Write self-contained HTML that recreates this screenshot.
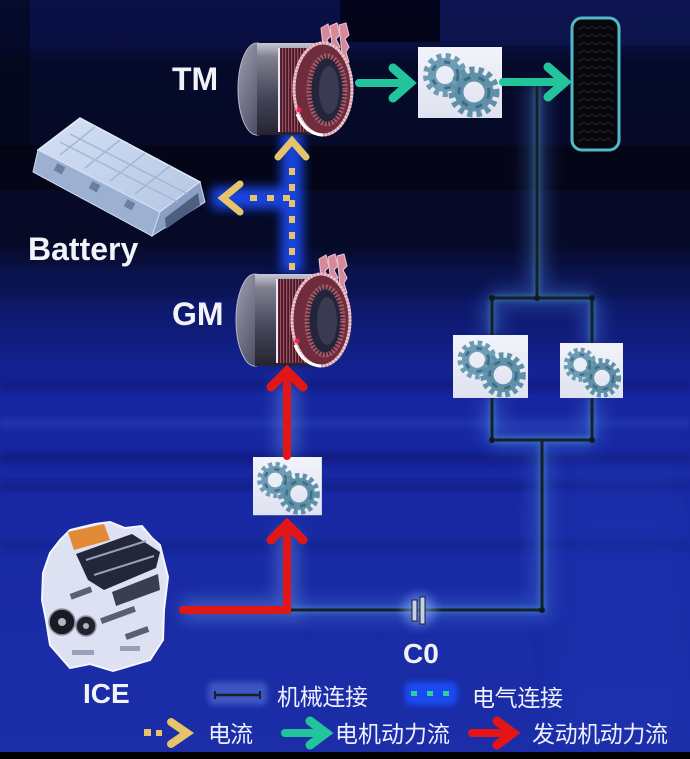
<!DOCTYPE html>
<html><head><meta charset="utf-8"><style>
html,body{margin:0;padding:0;background:#000;}
svg{display:block}
.lb{font-family:"Liberation Sans",sans-serif;font-weight:bold;fill:#f2f3f8}
.cn{font-family:"Liberation Sans","Noto Sans CJK SC",sans-serif;fill:#eef0ff;font-size:23px}
</style></head><body>
<svg width="690" height="759" viewBox="0 0 690 759" xmlns="http://www.w3.org/2000/svg">
<defs>
 <linearGradient id="bg" x1="0" y1="0" x2="0" y2="1">
  <stop offset="0" stop-color="#0a1048"/>
  <stop offset="0.06" stop-color="#090f40"/>
  <stop offset="0.08" stop-color="#060a2a"/>
  <stop offset="0.32" stop-color="#060a26"/>
  <stop offset="0.40" stop-color="#0d1868"/>
  <stop offset="0.52" stop-color="#1626a0"/>
  <stop offset="1" stop-color="#1b2ea8"/>
 </linearGradient>
 <linearGradient id="shellg" x1="0" y1="0" x2="0" y2="1">
  <stop offset="0" stop-color="#c8c8d6"/>
  <stop offset="0.15" stop-color="#80808f"/>
  <stop offset="0.6" stop-color="#44445a"/>
  <stop offset="1" stop-color="#242430"/>
 </linearGradient>
 <linearGradient id="capg" x1="0" y1="0" x2="1" y2="1">
  <stop offset="0" stop-color="#a0a0b2"/>
  <stop offset="1" stop-color="#30304a"/>
 </linearGradient>
 <linearGradient id="boxg" x1="0" y1="0" x2="0" y2="1">
  <stop offset="0" stop-color="#f2f3fa"/>
  <stop offset="1" stop-color="#dfe2f0"/>
 </linearGradient>
 <linearGradient id="battop" x1="0" y1="0" x2="1" y2="1">
  <stop offset="0" stop-color="#d4e0f4"/>
  <stop offset="1" stop-color="#b4c6e4"/>
 </linearGradient>
 <pattern id="teeth" width="3" height="4" patternUnits="userSpaceOnUse">
  <rect x="0" y="0" width="1.2" height="4" fill="#9a5262"/>
 </pattern>
 <pattern id="tread" width="8" height="8" patternUnits="userSpaceOnUse">
  <path d="M0,2 L4,5 L8,2" stroke="#23232e" stroke-width="1" fill="none"/>
 </pattern>
 <filter id="b3" x="-50%" y="-50%" width="200%" height="200%"><feGaussianBlur stdDeviation="3"/></filter>
 <filter id="b5" x="-50%" y="-50%" width="200%" height="200%"><feGaussianBlur stdDeviation="5"/></filter>
 <filter id="b8" x="-50%" y="-50%" width="200%" height="200%"><feGaussianBlur stdDeviation="8"/></filter>
 <filter id="b14" x="-50%" y="-50%" width="200%" height="200%"><feGaussianBlur stdDeviation="14"/></filter>

 <g id="gear">
  <rect width="84" height="71" fill="url(#boxg)"/>
  <g fill="none">
   <circle cx="27" cy="28" r="13" stroke="#6e9cb4" stroke-width="8"/>
   <circle cx="27" cy="28" r="19" stroke="#6e9cb4" stroke-width="6" stroke-dasharray="5 4"/>
   <circle cx="56" cy="45" r="15" stroke="#5f90a8" stroke-width="9"/>
   <circle cx="56" cy="45" r="22" stroke="#5f90a8" stroke-width="7" stroke-dasharray="5 4"/>
   <circle cx="27" cy="28" r="13" stroke="#35657e" stroke-width="3" stroke-dasharray="6 9" opacity="0.8"/>
   <circle cx="56" cy="45" r="15" stroke="#35657e" stroke-width="3" stroke-dasharray="7 8" opacity="0.8"/>
  </g>
 </g>

 <g id="motor">
  <g fill="#d48a9c" stroke="#f2c4cc" stroke-width="1">
   <path d="M84,6 l7,-4 l3,12 l-4,4 l4,8 l-3,5 l3,9 l-6,2 z"/>
   <path d="M93,4 l7,-3 l3,12 l-4,4 l4,8 l-3,5 l3,9 l-6,2 z"/>
   <path d="M102,3 l7,-2 l3,12 l-4,4 l4,8 l-3,5 l3,10 l-6,2 z"/>
  </g>
  <ellipse cx="20" cy="67" rx="19" ry="46" fill="url(#capg)" stroke="#b8b8c8" stroke-width="1"/>
  <rect x="20" y="21" width="60" height="92" fill="url(#shellg)"/>
  <rect x="42" y="26" width="36" height="84" fill="#4a1826"/>
  <rect x="42" y="26" width="36" height="84" fill="url(#teeth)"/>
  <line x1="42" y1="26" x2="42" y2="110" stroke="#e8e8f0" stroke-width="2"/>
  <ellipse cx="86" cy="67" rx="29" ry="46" fill="#6e2c3c" stroke="#d8a0ae" stroke-width="3"/>
  <ellipse cx="86" cy="67" rx="29" ry="46" fill="none" stroke="#f0d0d8" stroke-width="3" stroke-dasharray="1.5 2"/>
  <ellipse cx="90" cy="68" rx="18" ry="34" fill="#24243a" stroke="#a85868" stroke-width="5" stroke-dasharray="2 1.5"/>
  <ellipse cx="92" cy="68" rx="10" ry="24" fill="#3a3a50"/>
  <path d="M60,92 Q68,112 86,113" stroke="#ffffff" stroke-width="3" fill="none"/>
  <circle cx="62" cy="88" r="2.5" fill="#ff2050"/>
 </g>
</defs>

<!-- background -->
<rect width="690" height="759" fill="url(#bg)"/>
<rect x="340" y="0" width="100" height="42" fill="#02030f" opacity="0.8"/>
<rect x="0" y="0" width="30" height="150" fill="#02030f" opacity="0.5"/>
<rect x="440" y="0" width="250" height="45" fill="#111c60" opacity="0.4"/>
<rect x="0" y="145" width="690" height="45" fill="#010208" opacity="0.5"/>
<rect x="0" y="268" width="690" height="30" fill="#0a1450" opacity="0.6"/>
<rect x="0" y="380" width="690" height="10" fill="#0a1670" opacity="0.5" filter="url(#b3)"/>
<rect x="0" y="418" width="690" height="10" fill="#3048c0" opacity="0.35" filter="url(#b3)"/>
<rect x="0" y="452" width="690" height="12" fill="#0a1670" opacity="0.55" filter="url(#b3)"/>
<rect x="0" y="482" width="690" height="8" fill="#0a1670" opacity="0.45" filter="url(#b3)"/>
<rect x="0" y="540" width="690" height="10" fill="#0c1a78" opacity="0.35" filter="url(#b3)"/>
<rect x="560" y="450" width="130" height="300" fill="#2238b8" opacity="0.3" filter="url(#b14)"/>
<rect x="0" y="752" width="690" height="7" fill="#000"/>

<!-- mechanical connection glows -->
<g fill="none">
 <path d="M537,84 V298 M492,298 H592 M492,298 V335 M592,298 V343 M492,398 V440 M592,398 V440 M492,440 H592 M542,440 V610 H290" stroke="#4a78e0" stroke-width="22" opacity="0.35" filter="url(#b8)"/>
 <path d="M182,610 H287 V530 M287,457 V380" stroke="#6a9ae8" stroke-width="22" opacity="0.4" filter="url(#b8)"/>
 <path d="M537,84 V298 M492,298 H592 M492,298 V335 M592,298 V343 M492,398 V440 M592,398 V440 M492,440 H592 M542,440 V610 H290" stroke="#50b8d0" stroke-width="6" opacity="0.4" filter="url(#b3)"/>
 <path d="M537,84 V298 M492,298 H592 M492,298 V335 M592,298 V343 M492,398 V440 M592,398 V440 M492,440 H592 M542,440 V610 H290" stroke="#152028" stroke-width="3"/>
</g>
<g fill="#101820">
 <circle cx="537" cy="298" r="3"/><circle cx="492" cy="298" r="3"/><circle cx="592" cy="298" r="3"/>
 <circle cx="492" cy="440" r="3"/><circle cx="592" cy="440" r="3"/><circle cx="542" cy="610" r="3"/>
</g>

<!-- clutch C0 -->
<circle cx="419" cy="610" r="16" fill="#90b8ff" opacity="0.5" filter="url(#b5)"/>
<rect x="412" y="600" width="5" height="21" fill="#c8d0e8" stroke="#1a2030" stroke-width="1"/>
<rect x="420" y="597" width="5" height="27" fill="#c8d0e8" stroke="#1a2030" stroke-width="1"/>

<!-- blue glow for electric -->
<path d="M292,132 V272 M212,198 H292" stroke="#1a50ff" stroke-width="22" opacity="0.85" fill="none" filter="url(#b5)"/>

<!-- tire -->
<rect x="572" y="18" width="47" height="132" rx="10" fill="#07070c" stroke="#52b8c4" stroke-width="3"/>
<rect x="578" y="24" width="35" height="120" rx="6" fill="url(#tread)"/>

<!-- gear boxes -->
<use href="#gear" transform="translate(418,47)"/>
<use href="#gear" transform="translate(453,335) scale(0.893,0.887)"/>
<use href="#gear" transform="translate(560,343) scale(0.75,0.775)"/>
<use href="#gear" transform="translate(253,457) scale(0.82,0.82)"/>

<!-- motors -->
<use href="#motor" transform="translate(237,22)"/>
<use href="#motor" transform="translate(235,253)"/>

<!-- battery -->
<g>
 <polygon points="38,150 80,118 200,182 160,212" fill="url(#battop)" stroke="#e4ecfa" stroke-width="1.5"/>
 <polygon points="38,150 160,212 152,236 33,172" fill="#9cb0d2" stroke="#d0dcf0" stroke-width="1"/>
 <polygon points="160,212 200,182 205,202 152,236" fill="#8a9ec4" stroke="#d0dcf0" stroke-width="1"/>
 <g stroke="#a4b6d8" stroke-width="1.5" fill="none">
  <line x1="60" y1="142" x2="178" y2="202"/>
  <line x1="70" y1="134" x2="188" y2="194"/>
  <line x1="95" y1="127" x2="60" y2="155"/>
  <line x1="120" y1="140" x2="85" y2="168"/>
  <line x1="145" y1="153" x2="110" y2="181"/>
  <line x1="170" y1="166" x2="135" y2="194"/>
 </g>
 <polygon points="165,218 198,193 200,205 166,229" fill="#4e5e80"/>
 <g fill="#6a7ea4">
  <rect x="55" y="165" width="9" height="8" transform="rotate(28 60 169)"/>
  <rect x="90" y="183" width="9" height="8" transform="rotate(28 95 187)"/>
  <rect x="125" y="201" width="9" height="8" transform="rotate(28 130 205)"/>
 </g>
</g>

<!-- ICE engine -->
<g>
 <polygon points="50,553 60,540 70,530 95,524 110,522 125,528 142,526 152,538 160,545 168,577 164,610 163,640 150,660 113,671 90,664 70,668 50,645 46,620 42,600 43,573" fill="#dde1f2" stroke="#f4f6ff" stroke-width="2"/>
 <polygon points="68,532 104,524 110,540 74,550" fill="#e28a34"/>
 <polygon points="76,554 132,534 160,552 156,568 104,590 88,580" fill="#24273a"/>
 <g stroke="#9aa0b8" stroke-width="2">
  <line x1="86" y1="560" x2="146" y2="541"/>
  <line x1="94" y1="575" x2="154" y2="556"/>
 </g>
 <polygon points="112,592 158,574 160,590 116,606" fill="#3a3e52"/>
 <g fill="#5a5f78">
  <rect x="100" y="612" width="36" height="6" transform="rotate(-20 118 615)"/>
  <rect x="70" y="590" width="22" height="6" transform="rotate(-20 81 593)"/>
  <rect x="125" y="630" width="24" height="6" transform="rotate(-20 137 633)"/>
 </g>
 <circle cx="62" cy="622" r="13" fill="#1a1a22" stroke="#9094a8" stroke-width="1.5"/>
 <circle cx="62" cy="622" r="4" fill="#b0b4c4"/>
 <circle cx="86" cy="626" r="10" fill="#22222c" stroke="#9094a8" stroke-width="1.5"/>
 <circle cx="86" cy="626" r="3" fill="#b0b4c4"/>
 <g fill="#9aa0b8">
  <rect x="120" y="646" width="20" height="5"/>
  <rect x="72" y="650" width="22" height="5"/>
 </g>
</g>

<!-- yellow electric current arrows -->
<g fill="#e6c46a">
 <rect x="289" y="168" width="6" height="7"/>
 <rect x="289" y="184" width="6" height="7"/>
 <rect x="289" y="200" width="6" height="7"/>
 <rect x="289" y="216" width="6" height="7"/>
 <rect x="289" y="232" width="6" height="7"/>
 <rect x="289" y="248" width="6" height="7"/>
 <rect x="289" y="263" width="6" height="7"/>
 <rect x="250" y="195" width="7" height="6"/>
 <rect x="267" y="195" width="7" height="6"/>
 <rect x="283" y="195" width="7" height="6"/>
</g>
<g fill="none" stroke="#e6c46a" stroke-width="7" stroke-linecap="round" stroke-linejoin="miter">
 <polyline points="278,157 292,141 306,157"/>
 <polyline points="240,184 223,198 240,212"/>
</g>

<!-- green motor power arrows -->
<g fill="none" stroke="#22c49c" stroke-width="8" stroke-linecap="round" stroke-linejoin="miter">
 <line x1="359" y1="83" x2="406" y2="83"/>
 <polyline points="393,68 410,83 393,98" stroke-width="9"/>
 <line x1="503" y1="82" x2="561" y2="82"/>
 <polyline points="548,67 565,82 548,97" stroke-width="9"/>
</g>

<!-- red engine power arrows -->
<g fill="none" stroke="#e21616" stroke-width="8" stroke-linecap="round" stroke-linejoin="miter">
 <path d="M183,610 H287 V530"/>
 <polyline points="271,540 287,524 303,540" stroke-width="9"/>
 <line x1="287" y1="456" x2="287" y2="376"/>
 <polyline points="271,387 287,371 303,387" stroke-width="9"/>
</g>

<!-- labels -->
<text class="lb" x="172" y="90" font-size="32">TM</text>
<text class="lb" x="28" y="260" font-size="32">Battery</text>
<text class="lb" x="172" y="325" font-size="32">GM</text>
<text class="lb" x="83" y="703" font-size="28">ICE</text>
<text class="lb" x="403" y="663" font-size="28">C0</text>

<!-- legend -->
<rect x="208" y="682" width="59" height="23" rx="5" fill="#5a7ad8" opacity="0.55" filter="url(#b3)"/>
<line x1="215" y1="695" x2="260" y2="695" stroke="#1a2030" stroke-width="2.5"/>
<line x1="215" y1="691" x2="215" y2="699" stroke="#1a2030" stroke-width="2"/>
<line x1="260" y1="691" x2="260" y2="699" stroke="#1a2030" stroke-width="2"/>
<text class="cn" x="277" y="705" textLength="91">机械连接</text>

<rect x="405" y="682" width="52" height="23" rx="5" fill="#1a50ff" opacity="0.85" filter="url(#b3)"/>
<g fill="#2ad0a0">
 <rect x="411" y="691" width="6" height="5"/>
 <rect x="427" y="691" width="6" height="5"/>
 <rect x="443" y="691" width="6" height="5"/>
</g>
<text class="cn" x="472" y="706" textLength="91">电气连接</text>

<g fill="#e6c46a">
 <rect x="144" y="729" width="7" height="7"/>
 <rect x="156" y="730" width="6" height="6"/>
</g>
<polyline points="171,722 187,733 171,744" fill="none" stroke="#e6c46a" stroke-width="8" stroke-linecap="round"/>
<text class="cn" x="208" y="742" textLength="45">电流</text>

<line x1="285" y1="733" x2="322" y2="733" stroke="#22c49c" stroke-width="8" stroke-linecap="round"/>
<polyline points="310,721 326,733 310,745" fill="none" stroke="#22c49c" stroke-width="9" stroke-linecap="round"/>
<text class="cn" x="335" y="742" textLength="115">电机动力流</text>

<line x1="472" y1="733" x2="508" y2="733" stroke="#e21616" stroke-width="8" stroke-linecap="round"/>
<polyline points="497,721 513,733 497,745" fill="none" stroke="#e21616" stroke-width="9" stroke-linecap="round"/>
<text class="cn" x="532" y="742" textLength="136">发动机动力流</text>
</svg>
</body></html>
